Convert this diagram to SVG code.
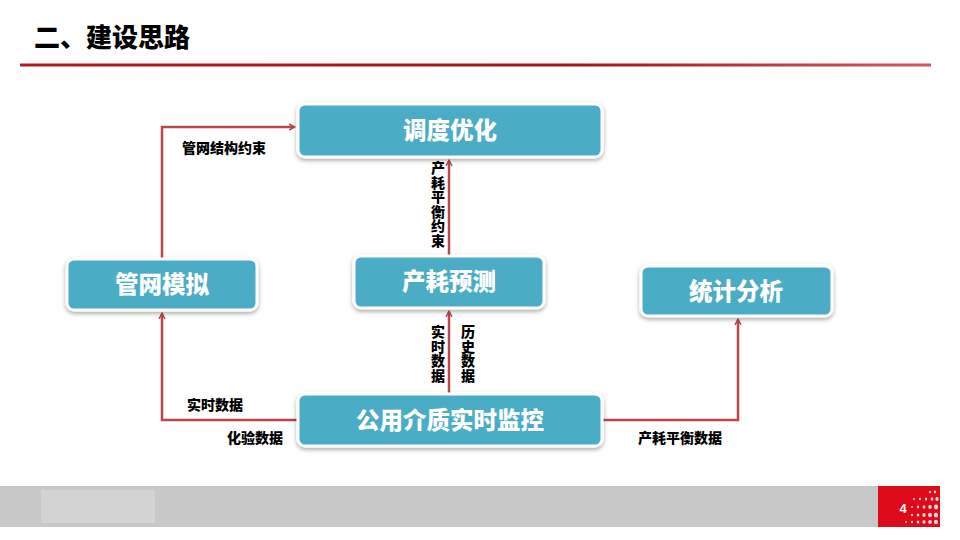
<svg xmlns="http://www.w3.org/2000/svg" width="960" height="540" viewBox="0 0 960 540">
<defs>
<style>
.box{fill:#4bacc6;stroke:#ffffff;stroke-width:3;filter:url(#sh)}
.bt{font-family:"Noto Sans CJK SC","Noto Sans",sans-serif;font-weight:900;font-size:23.5px;fill:#ffffff;text-anchor:middle}
.lb{font-family:"Noto Sans CJK SC","Noto Sans",sans-serif;font-weight:900;font-size:14px;fill:#000000}
.vl{font-family:"Noto Sans CJK SC","Noto Sans",sans-serif;font-weight:900;font-size:14px;fill:#000000;writing-mode:vertical-rl;letter-spacing:0.5px}
.cn{fill:none;stroke:#b9474b;stroke-width:2.5;marker-end:url(#ah)}
</style>
<filter id="sh" x="-10%" y="-20%" width="120%" height="150%">
<feDropShadow dx="0" dy="2" stdDeviation="2" flood-color="#000000" flood-opacity="0.35"/>
</filter>
<marker id="ah" viewBox="0 0 10 10" refX="8" refY="5" markerWidth="6" markerHeight="6" orient="auto" markerUnits="userSpaceOnUse" overflow="visible">
<path d="M0,0 L9,5 L0,10" fill="none" stroke="#b9474b" stroke-width="2.5"/>
</marker>
<linearGradient id="rl" x1="0" x2="1" y1="0" y2="0">
<stop offset="0" stop-color="#b01a22"/>
<stop offset="0.6" stop-color="#a3141c"/>
<stop offset="1" stop-color="#d25a5e"/>
</linearGradient>
</defs>
<rect width="960" height="540" fill="#ffffff"/>
<g id="header">
<text x="34" y="47" font-family="Noto Sans CJK SC,sans-serif" font-weight="900" font-size="26" fill="#000000">二、建设思路</text>
<rect x="20" y="63.5" width="911" height="3" fill="url(#rl)"/>
</g>
<g id="connectors">
<path class="cn" d="M162,258 V127 H294"/>
<path class="cn" d="M449,255 V161"/>
<path class="cn" d="M449,393 V312"/>
<path class="cn" d="M297,420 H162 V314"/>
<path class="cn" d="M603,420 H738 V320"/>
</g>
<g id="labels">
<text class="lb" x="182" y="153">管网结构约束</text>
<text class="vl" x="438" y="161">产耗平衡约束</text>
<text class="vl" x="438" y="325">实时数据</text>
<text class="vl" x="468" y="325">历史数据</text>
<text class="lb" x="187" y="410">实时数据</text>
<text class="lb" x="227" y="443">化验数据</text>
<text class="lb" x="638" y="443">产耗平衡数据</text>
</g>
<g id="node-ddyh">
<rect class="box" x="298" y="104" width="304" height="53" rx="7"/>
<text class="bt" x="450" y="139">调度优化</text>
</g>
<g id="node-gwmn">
<rect class="box" x="67" y="259" width="190" height="51" rx="7"/>
<text class="bt" x="162" y="293">管网模拟</text>
</g>
<g id="node-chyc">
<rect class="box" x="354" y="256" width="190" height="52" rx="7"/>
<text class="bt" x="449" y="290">产耗预测</text>
</g>
<g id="node-tjfx">
<rect class="box" x="641" y="266" width="191" height="50" rx="7"/>
<text class="bt" x="736" y="300">统计分析</text>
</g>
<g id="node-gyjz">
<rect class="box" x="298" y="394" width="304" height="52" rx="7"/>
<text class="bt" x="450" y="429">公用介质实时监控</text>
</g>
<g id="footer">
<rect x="0" y="486" width="878" height="41" fill="#c8c8c8"/>
<rect x="41" y="490" width="114" height="33" fill="#d3d3d3"/>
<rect x="878" y="486" width="62" height="41" fill="#dd0a1a"/>
<text x="903" y="513" font-family="Liberation Sans,sans-serif" font-weight="700" font-size="13" fill="#ffffff" text-anchor="middle">4</text>
<g fill="#ffffff" opacity="0.85">
<ellipse cx="930" cy="492" rx="1" ry="1.2"/><ellipse cx="935" cy="492" rx="1.2" ry="1.4"/>
<ellipse cx="914" cy="499" rx="0.8" ry="1"/><ellipse cx="920" cy="499" rx="1" ry="1.2"/><ellipse cx="926" cy="499" rx="1.2" ry="1.5"/><ellipse cx="932" cy="499" rx="1.4" ry="1.8"/><ellipse cx="937" cy="499" rx="1.6" ry="2"/>
<ellipse cx="912" cy="507" rx="0.8" ry="1"/><ellipse cx="918" cy="507" rx="1.1" ry="1.4"/><ellipse cx="924" cy="507" rx="1.4" ry="1.8"/><ellipse cx="930" cy="507" rx="1.7" ry="2.1"/><ellipse cx="936" cy="507" rx="2" ry="2.4"/>
<ellipse cx="912" cy="515" rx="1" ry="1.2"/><ellipse cx="918" cy="515" rx="1.3" ry="1.6"/><ellipse cx="924" cy="515" rx="1.6" ry="2"/><ellipse cx="930" cy="515" rx="1.9" ry="2.3"/><ellipse cx="936" cy="515" rx="2.1" ry="2.6"/>
<ellipse cx="906" cy="522" rx="0.8" ry="1"/><ellipse cx="912" cy="522" rx="1" ry="1.2"/><ellipse cx="918" cy="522" rx="1.3" ry="1.5"/><ellipse cx="924" cy="522" rx="1.6" ry="1.8"/><ellipse cx="930" cy="522" rx="1.8" ry="2.1"/><ellipse cx="936" cy="522" rx="2" ry="2.3"/>
</g>
</g>
</svg>
